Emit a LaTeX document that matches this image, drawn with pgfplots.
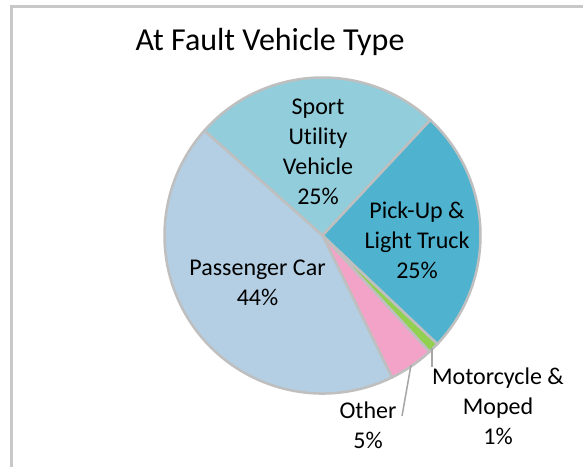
\documentclass[border=0pt]{standalone}
\usepackage{pgfplots}
\pgfplotsset{compat=1.18}
\usepackage{pgfplotstable}
\usepackage{fontspec}
\setmainfont{Carlito}[Ligatures=NoCommon]

\definecolor{cSUV}{HTML}{92CDDC}
\definecolor{cPU}{HTML}{4FB3CF}
\definecolor{cMoto}{HTML}{92D050}
\definecolor{cOther}{HTML}{F4A3C8}
\definecolor{cPC}{HTML}{B4CFE3}
\definecolor{cEdge}{HTML}{BFBFBF}
\definecolor{cFrame}{HTML}{C8C8C8}
\definecolor{cLead}{HTML}{A6A6A6}

% slice shares (percent), clockwise from the start angle
\pgfplotstableread[col sep=comma]{
name,value
SUV,25.4
PickUp,25.1
Moto,1.1
Other,4.6
PC,43.8
}\pietable

\pgfplotstablegetelem{0}{value}\of\pietable \let\vA\pgfplotsretval
\pgfplotstablegetelem{1}{value}\of\pietable \let\vB\pgfplotsretval
\pgfplotstablegetelem{2}{value}\of\pietable \let\vC\pgfplotsretval
\pgfplotstablegetelem{3}{value}\of\pietable \let\vD\pgfplotsretval
\pgfplotstablegetelem{4}{value}\of\pietable \let\vE\pgfplotsretval

\pgfmathsetmacro\aS{138.4}
\pgfmathsetmacro\aA{\aS-3.6*\vA}
\pgfmathsetmacro\aB{\aA-3.6*\vB}
\pgfmathsetmacro\aC{\aB-3.6*\vC}
\pgfmathsetmacro\aD{\aC-3.6*\vD}
\pgfmathsetmacro\aE{\aD-3.6*\vE}

\newcommand\slice[3]{%
  \filldraw[fill=#1, draw=cEdge, line width=2.5bp, line join=round]
    (axis cs:0,0) -- (axis cs:{cos(#2)},{sin(#2)})
    arc[start angle=#2, end angle=#3, radius=158bp] -- cycle;}

\begin{document}
\begin{tikzpicture}
\path[use as bounding box, fill=white] (0,0) rectangle (583bp,-467bp);
\draw[cFrame, line width=3bp] (11.5bp,-470bp) -- (11.5bp,-6.5bp) -- (590bp,-6.5bp);

\begin{axis}[hide axis, x=158bp, y=158bp,
  xmin=-1.02, xmax=1.02, ymin=-1.02, ymax=1.02,
  anchor=origin, at={(322.5bp,-235.5bp)}, clip=false]
  \slice{cSUV}{\aS}{\aA}
  \slice{cPU}{\aA}{\aB}
  \slice{cMoto}{\aB}{\aC}
  \slice{cOther}{\aC}{\aD}
  \slice{cPC}{\aD}{\aE}
\end{axis}

\draw[cLead, line width=1.5bp] (411bp,-365bp) -- (402bp,-416bp);
\draw[cLead, line width=1.5bp] (432bp,-348bp) -- (432bp,-367bp);

\node[font=\fontsize{32bp}{38bp}\selectfont] at (270bp,-42bp) {At Fault Vehicle Type};
\begin{scope}[every node/.style={align=center, font=\fontsize{24bp}{30bp}\selectfont, inner sep=0pt}]
\node at (318bp,-152bp) {Sport\\Utility\\Vehicle\\25\%};
\node at (417bp,-240bp) {Pick-Up \&\\Light Truck\\25\%};
\node at (257.5bp,-283bp) {Passenger Car\\44\%};
\node at (368bp,-425bp) {Other\\5\%};
\node at (498bp,-406bp) {Motorcycle \&\\Moped\\1\%};
\end{scope}
\end{tikzpicture}
\end{document}
